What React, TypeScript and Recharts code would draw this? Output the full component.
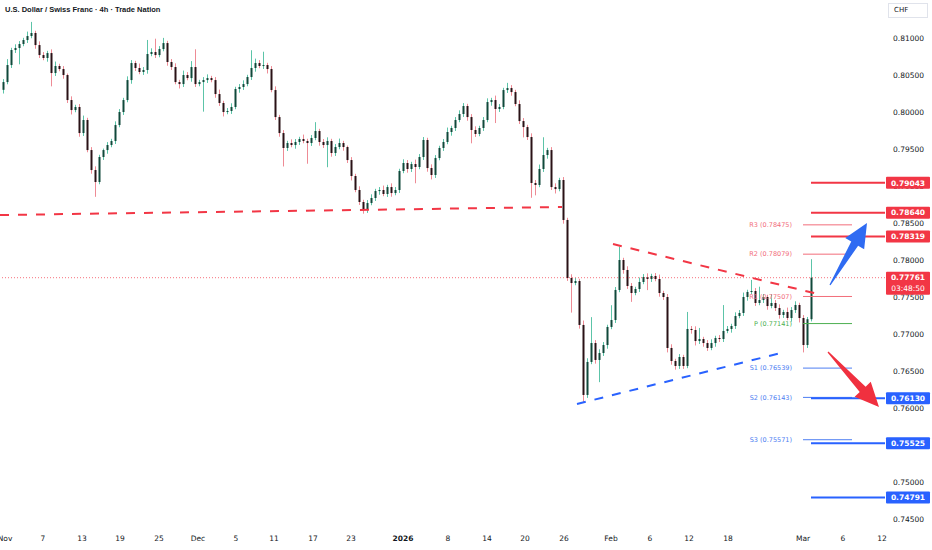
import React from "react";
import { ComposedChart, Bar, XAxis, YAxis, ReferenceLine } from "recharts";

const FONT = "'DejaVu Sans', Verdana, sans-serif";
const RED = "#f23645";
const BLUE = "#2962ff";
const TEXT = "#131722";
const UP_BODY = "#10493b";
const DOWN_BODY = "#2a1216";
const UP_WICK = "#5cc4a8";
const DOWN_WICK = "#ee8b95";

// 4h closes (one candle per slot), first open, wick lengths in pips
const FIRST_OPEN = 0.803;
const CLOSES = [
  0.80405, 0.80635, 0.80838, 0.80865, 0.80919, 0.80973, 0.81027, 0.81068, 0.80905, 0.8077,
  0.8073, 0.80797, 0.80527, 0.80622, 0.80581, 0.805, 0.80162, 0.80027, 0.80068, 0.79716,
  0.79892, 0.79486, 0.79216, 0.79054, 0.79392, 0.79486, 0.79554, 0.79608, 0.79824, 0.8,
  0.80162, 0.80432, 0.80662, 0.80595, 0.80541, 0.80568, 0.80784, 0.80811, 0.8077, 0.80851,
  0.80932, 0.80676, 0.80608, 0.80405, 0.80378, 0.805, 0.80459, 0.80608, 0.80378, 0.80405,
  0.80432, 0.80459, 0.80432, 0.80243, 0.80122, 0.8, 0.80014, 0.80068, 0.80311, 0.80338,
  0.80378, 0.80473, 0.80595, 0.80662, 0.80622, 0.80635, 0.80581, 0.80297, 0.79932, 0.79716,
  0.79514, 0.79581, 0.79554, 0.79595, 0.79635, 0.79608, 0.79581, 0.79649, 0.79743, 0.79595,
  0.79554, 0.79608, 0.79446, 0.79527, 0.79581, 0.79527, 0.79351, 0.79135, 0.78946, 0.78784,
  0.78676, 0.7877, 0.78838, 0.78932, 0.78946, 0.78892, 0.78986, 0.78905, 0.78946, 0.79203,
  0.79311, 0.7923, 0.79297, 0.79257, 0.79392, 0.79622, 0.79243, 0.79149, 0.79378, 0.79514,
  0.79595, 0.7973, 0.79784, 0.79892, 0.79973, 0.80081, 0.79932, 0.79757, 0.79703, 0.79784,
  0.79892, 0.80135, 0.80162, 0.80041, 0.80068, 0.80297, 0.80324, 0.8027, 0.80108, 0.79878,
  0.79797, 0.79662, 0.79041, 0.79014, 0.7923, 0.79419, 0.79486, 0.78986, 0.78959, 0.79081,
  0.78541, 0.77757, 0.77689, 0.77716, 0.77122, 0.76176, 0.76622, 0.76878, 0.76649, 0.76743,
  0.76851, 0.77095, 0.77189, 0.77595, 0.78, 0.77865, 0.77649, 0.77554, 0.77608, 0.77703,
  0.7777, 0.77743, 0.77784, 0.77743, 0.77554, 0.775, 0.76811, 0.76635, 0.76568, 0.76689,
  0.76568, 0.77068, 0.77054, 0.76905, 0.76932, 0.76878, 0.76811, 0.76878, 0.76946, 0.76932,
  0.77041, 0.77068, 0.77108, 0.77243, 0.77284, 0.775, 0.77568, 0.77581, 0.77419, 0.77459,
  0.775, 0.77378, 0.77419, 0.77351, 0.77257, 0.77297, 0.77216, 0.77324, 0.77392, 0.77216,
  0.76851, 0.772, 0.77761,
];
const UPPER_WICKS = [
  4, 8, 3, 5, 4, 3, 6, 15, 3, 5,
  4, 3, 5, 6, 3, 4, 2, 5, 3, 4,
  6, 3, 4, 5, 3, 2, 4, 3, 5, 4,
  3, 5, 4, 3, 6, 4, 19, 5, 18, 4,
  7, 3, 4, 5, 3, 6, 4, 8, 24, 3,
  4, 5, 3, 4, 6, 3, 4, 5, 3, 4,
  5, 3, 24, 6, 4, 18, 3, 4, 5, 3,
  4, 3, 5, 4, 3, 6, 3, 4, 12, 3,
  4, 5, 3, 4, 6, 3, 2, 4, 3, 5,
  3, 4, 5, 3, 4, 6, 3, 5, 4, 3,
  5, 4, 3, 6, 4, 4, 3, 5, 4, 3,
  4, 6, 3, 4, 5, 4, 3, 4, 5, 3,
  4, 5, 3, 6, 4, 3, 7, 4, 3, 5,
  4, 3, 5, 4, 6, 24, 3, 4, 5, 3,
  4, 3, 5, 4, 3, 6, 5, 35, 4, 5,
  4, 3, 20, 4, 18, 3, 5, 4, 3, 6,
  4, 5, 3, 4, 6, 3, 4, 5, 3, 4,
  3, 23, 4, 5, 15, 3, 4, 5, 3, 4,
  35, 4, 3, 5, 4, 6, 3, 15, 4, 18,
  4, 3, 12, 4, 5, 3, 6, 4, 5, 3,
  4, 3, 25,
];
const LOWER_WICKS = [
  5, 3, 4, 4, 22, 3, 4, 3, 5, 4,
  3, 5, 18, 4, 3, 5, 4, 6, 3, 5,
  4, 3, 5, 20, 3, 4, 5, 3, 4, 3,
  4, 3, 5, 4, 3, 4, 5, 3, 4, 3,
  3, 5, 4, 3, 6, 4, 3, 5, 4, 3,
  40, 4, 3, 5, 4, 6, 3, 4, 3, 5,
  4, 3, 4, 5, 3, 4, 6, 3, 4, 5,
  25, 4, 3, 5, 4, 3, 28, 4, 3, 5,
  4, 30, 5, 4, 3, 5, 4, 6, 3, 4,
  5, 4, 3, 4, 5, 3, 4, 5, 3, 4,
  3, 5, 4, 22, 3, 4, 5, 6, 4, 3,
  4, 3, 5, 4, 3, 4, 5, 18, 4, 3,
  4, 3, 5, 19, 4, 3, 4, 5, 3, 4,
  14, 4, 20, 14, 3, 4, 5, 4, 6, 3,
  5, 4, 40, 3, 5, 10, 4, 3, 5, 30,
  4, 5, 3, 4, 3, 5, 4, 12, 3, 4,
  3, 15, 4, 3, 5, 4, 6, 5, 5, 4,
  4, 3, 5, 6, 4, 5, 4, 3, 5, 4,
  4, 3, 5, 4, 3, 4, 5, 3, 4, 3,
  4, 5, 3, 4, 5, 4, 3, 5, 4, 6,
  10, 4, 3,
];

// time axis, in candle slots
const X_MAX = 221.25;
const X_TICKS = [1.25, 10.75, 20.5, 30, 39.75, 49.5, 59, 68.5, 78.25, 87.75, 100.75, 112, 121.75, 131.25, 141, 152.75, 162.5, 172.25, 182, 200.75, 210.75, 220.5];
const X_LABELS = ["Nov", "7", "13", "19", "25", "Dec", "5", "11", "17", "23", "2026", "8", "14", "20", "26", "Feb", "6", "12", "18", "Mar", "6", "12"];

const Y_MIN = 0.74378;
const Y_MAX = 0.81514;
const Y_TICKS = [0.745, 0.75, 0.755, 0.76, 0.765, 0.77, 0.775, 0.78, 0.785, 0.79, 0.795, 0.8, 0.805, 0.81];

const LAST_PRICE = 0.77761;
const COUNTDOWN = "03:48:50";
const RESISTANCE_LEVELS = [0.79043, 0.7864, 0.78319];
const SUPPORT_LEVELS = [0.7613, 0.75525, 0.74791];
const LEVEL_START = 202.75;
const PIVOT_NAMES = ["R3", "R2", "R1", "P", "S1", "S2", "S3"];
const PIVOT_VALUES = [0.78475, 0.78079, 0.77507, 0.77141, 0.76539, 0.76143, 0.75571];
const PIVOT_START = 200.75;
const PIVOT_END = 213;

// hand drawn lines: [slot, price]
const NECKLINE = [[0, 0.78608], [140.5, 0.78716]];
const UPPER_TREND = [[153.25, 0.78216], [205.5, 0.77527]];
const LOWER_TREND = [[144.25, 0.76054], [196.25, 0.76757]];
const BULL_ARROW = [[207.5, 0.77662], [216.75, 0.785]];
const BEAR_ARROW = [[207, 0.76757], [219.75, 0.76014]];

const PIP = 0.0001;
const candles = CLOSES.map((close, i) => {
  const open = i === 0 ? FIRST_OPEN : CLOSES[i - 1];
  const high = Math.max(open, close) + UPPER_WICKS[i] * PIP;
  const low = Math.min(open, close) - LOWER_WICKS[i] * PIP;
  return { t: i + 0.5, open, close, high, low, range: [low, high] };
});

const seg = (pts: number[][]) => pts.map(([x, y]) => ({ x, y }));

function Candle(props: any) {
  const { x, y, width, height, payload } = props;
  if (!payload) return null;
  const { open, close, high, low } = payload;
  const up = close >= open;
  const top = Math.min(y, y + height);
  const h = Math.abs(height);
  const k = h / (high - low);
  const yAt = (v: number) => top + (high - v) * k;
  const bTop = yAt(Math.max(open, close));
  const bBot = yAt(Math.min(open, close));
  const cx = Math.round(x + width / 2) + 0.5;
  return (
    <g>
      <line x1={cx} x2={cx} y1={top} y2={top + h} stroke={up ? UP_WICK : DOWN_WICK} strokeWidth={1} />
      <rect x={cx - 1} y={bTop} width={2} height={Math.max(1, bBot - bTop)} fill={up ? UP_BODY : DOWN_BODY} />
    </g>
  );
}

const arrowShape = (color: string) => (props: any) => {
  const { x1, y1, x2, y2 } = props;
  const dx = x2 - x1;
  const dy = y2 - y1;
  const len = Math.hypot(dx, dy) || 1;
  const ux = dx / len;
  const uy = dy / len;
  const nx = -uy;
  const ny = ux;
  const headLen = 24;
  const headHalf = 11;
  const bx = x2 - ux * headLen;
  const by = y2 - uy * headLen;
  const pts = [
    [x1 + nx * 0.6, y1 + ny * 0.6],
    [bx + nx * 4, by + ny * 4],
    [bx + nx * headHalf, by + ny * headHalf],
    [x2, y2],
    [bx - nx * headHalf, by - ny * headHalf],
    [bx - nx * 4, by - ny * 4],
    [x1 - nx * 0.6, y1 - ny * 0.6],
  ];
  return <polygon points={pts.map((p) => p.join(",")).join(" ")} fill={color} />;
};

const levelTag = (value: number, color: string) => (props: any) => {
  const vb = props.viewBox;
  if (!vb) return null;
  const x = vb.x + vb.width + 1;
  return (
    <g>
      <rect x={x} y={vb.y - 6} width={44} height={12} fill={color} rx={1} />
      <text x={x + 22} y={vb.y} dy="0.36em" textAnchor="middle" fontSize={7.5} fontWeight={700} fontFamily={FONT} fill="#fff">
        {value.toFixed(5)}
      </text>
    </g>
  );
};

const lastTag = (props: any) => {
  const vb = props.viewBox;
  if (!vb) return null;
  const x = vb.x + vb.width + 1;
  return (
    <g>
      <rect x={x} y={vb.y - 6} width={44} height={23} fill={RED} rx={1} />
      <text x={x + 22} y={vb.y} dy="0.36em" textAnchor="middle" fontSize={7.5} fontWeight={700} fontFamily={FONT} fill="#fff">
        {LAST_PRICE.toFixed(5)}
      </text>
      <text x={x + 22} y={vb.y + 11} dy="0.36em" textAnchor="middle" fontSize={7.5} fontFamily={FONT} fill="#fff">
        {COUNTDOWN}
      </text>
    </g>
  );
};

const pivotLabel = (name: string, value: number, color: string) => (props: any) => {
  const vb = props.viewBox;
  if (!vb) return null;
  return (
    <text x={vb.x - 11} y={vb.y} dy="0.36em" textAnchor="end" fontSize={6.5} fontFamily={FONT} fill={color}>
      {`${name} (${value.toFixed(5)})`}
    </text>
  );
};

const pivotColor = (name: string) => (name === "P" ? "#4caf50" : name.startsWith("R") ? "#f26d7a" : "#4d7ef2");

function XTick(props: any) {
  const { x, y, payload } = props;
  const label = X_LABELS[X_TICKS.indexOf(payload.value)];
  return (
    <text x={x} y={y} dy="0.71em" textAnchor="middle" fontSize={7.5} fontFamily={FONT} fill={TEXT} fontWeight={label === "2026" ? 700 : 400}>
      {label}
    </text>
  );
}

const MARGIN = { top: 0, right: 0, bottom: 0, left: 0 };

export default function App() {
  return (
    <div style={{ position: "absolute", left: 0, top: 0, width: 932, height: 550, background: "#fff", fontFamily: FONT }}>
      <ComposedChart width={932} height={550} data={candles} margin={MARGIN}>
        <XAxis
          type="number"
          dataKey="t"
          domain={[0, X_MAX]}
          allowDataOverflow
          ticks={X_TICKS}
          interval={0}
          tick={<XTick />}
          axisLine={false}
          tickLine={false}
          height={22}
        />
        <YAxis
          orientation="right"
          domain={[Y_MIN, Y_MAX]}
          allowDataOverflow
          ticks={Y_TICKS}
          interval={0}
          tickFormatter={(v: number) => v.toFixed(5)}
          tick={{ fontSize: 7.5, fill: TEXT, fontFamily: FONT }}
          axisLine={false}
          tickLine={false}
          width={47}
        />
        <ReferenceLine segment={seg(NECKLINE)} stroke={RED} strokeWidth={2} strokeDasharray="9 9" />
        <ReferenceLine segment={seg(UPPER_TREND)} stroke={RED} strokeWidth={2} strokeDasharray="9 9" />
        <ReferenceLine segment={seg(LOWER_TREND)} stroke={BLUE} strokeWidth={2} strokeDasharray="9 9" />
        {PIVOT_NAMES.map((name, i) => (
          <ReferenceLine
            key={name}
            segment={[{ x: PIVOT_START, y: PIVOT_VALUES[i] }, { x: PIVOT_END, y: PIVOT_VALUES[i] }]}
            stroke={pivotColor(name)}
            strokeWidth={1}
            label={pivotLabel(name, PIVOT_VALUES[i], pivotColor(name))}
          />
        ))}
        <Bar dataKey="range" barSize={3} shape={<Candle />} isAnimationActive={false} />
        <ReferenceLine y={LAST_PRICE} stroke={RED} strokeWidth={1} strokeDasharray="1 2" strokeOpacity={0.7} />
        {RESISTANCE_LEVELS.map((v) => (
          <ReferenceLine key={v} segment={[{ x: LEVEL_START, y: v }, { x: X_MAX, y: v }]} stroke={RED} strokeWidth={2} />
        ))}
        {SUPPORT_LEVELS.map((v) => (
          <ReferenceLine key={v} segment={[{ x: LEVEL_START, y: v }, { x: X_MAX, y: v }]} stroke={BLUE} strokeWidth={2} />
        ))}
      </ComposedChart>

      {/* overlay chart with the same scales, so price tags sit above the axis text */}
      <div style={{ position: "absolute", left: 0, top: 0 }}>
        <ComposedChart width={932} height={550} data={candles} margin={MARGIN}>
          <XAxis type="number" dataKey="t" domain={[0, X_MAX]} allowDataOverflow tick={false} axisLine={false} tickLine={false} height={22} />
          <YAxis orientation="right" domain={[Y_MIN, Y_MAX]} allowDataOverflow tick={false} axisLine={false} tickLine={false} width={47} />
          <ReferenceLine y={LAST_PRICE} stroke="none" label={lastTag} />
          {RESISTANCE_LEVELS.map((v) => (
            <ReferenceLine key={v} segment={[{ x: LEVEL_START, y: v }, { x: X_MAX, y: v }]} stroke="none" label={levelTag(v, RED)} />
          ))}
          {SUPPORT_LEVELS.map((v) => (
            <ReferenceLine key={v} segment={[{ x: LEVEL_START, y: v }, { x: X_MAX, y: v }]} stroke="none" label={levelTag(v, BLUE)} />
          ))}
          <ReferenceLine segment={seg(BULL_ARROW)} shape={arrowShape("#2f6bf2")} />
          <ReferenceLine segment={seg(BEAR_ARROW)} shape={arrowShape("#f0303f")} />
        </ComposedChart>
      </div>

      <div style={{ position: "absolute", left: 5, top: 5, fontSize: 7.5, fontWeight: 700, color: TEXT, fontFamily: "'Liberation Sans', Arial, sans-serif", whiteSpace: "nowrap" }}>
        U.S. Dollar / Swiss Franc · 4h · Trade Nation
      </div>
      <div style={{ position: "absolute", left: 888, top: 3, width: 40, height: 15, border: "1px solid #e0e3eb", boxSizing: "border-box", fontSize: 7, color: TEXT, lineHeight: "13px", paddingLeft: 5 }}>
        CHF
      </div>
    </div>
  );
}
